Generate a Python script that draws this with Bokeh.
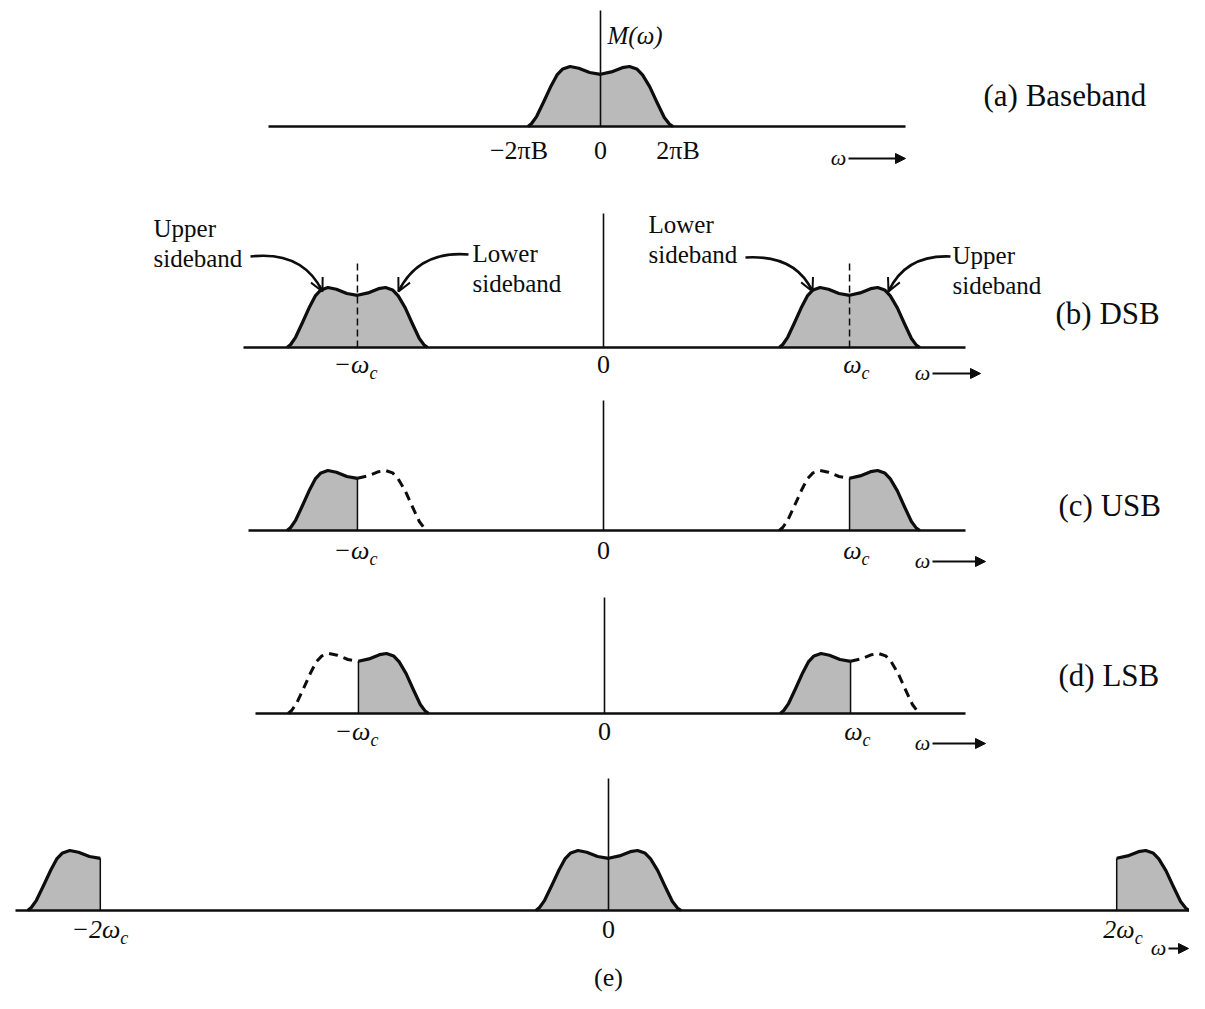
import numpy as np
from bokeh.plotting import figure
from bokeh.layouts import column
from bokeh.models import Range1d, Arrow, NormalHead, OpenHead
from bokeh.core.properties import value
from bokeh.embed import file_html
from bokeh.resources import INLINE

# ---------------- data ----------------
# baseband spectrum M(w): frequency in units of 2*pi*B, amplitude normalised to peak
PROFILE_X = [-1.00, -0.95, -0.88, -0.78, -0.68, -0.60, -0.52, -0.42, -0.30, -0.15, 0.00,
             0.15, 0.30, 0.40, 0.50, 0.58, 0.68, 0.78, 0.88, 0.95, 1.00]
PROFILE_M = [0.00, 0.05, 0.17, 0.42, 0.68, 0.86, 0.96, 1.00, 0.97, 0.90, 0.87,
             0.91, 0.98, 1.00, 0.96, 0.86, 0.66, 0.40, 0.15, 0.04, 0.00]
OMEGA_C = 3.5          # carrier frequency, in units of 2*pi*B

PANEL_TITLES = ["(a) Baseband", "(b) DSB", "(c) USB", "(d) LSB", "(e)"]
BASEBAND_TICKS = [-1.0, 0.0, 1.0]
BASEBAND_TICK_LABELS = ["−2πB", "0", "2πB"]
CARRIER_TICKS = [-OMEGA_C, 0.0, OMEGA_C]
CARRIER_TICK_MAIN = ["−ω", "0", "ω"]
CARRIER_TICK_SUB = ["c", "", "c"]
DEMOD_TICKS = [-2 * OMEGA_C, 0.0, 2 * OMEGA_C]
DEMOD_TICK_MAIN = ["−2ω", "0", "2ω"]
DEMOD_TICK_SUB = ["c", "", "c"]
SIDEBAND_NOTES = ["Upper\nsideband", "Lower\nsideband", "Lower\nsideband", "Upper\nsideband"]

# ---------------- layout (screen pixels) ----------------
PPA = 60.0
FONT = value("Liberation Serif")
FILL = "#bababa"
INK = "#0d0d0d"
W = 1189

panels = [
    dict(top=0, h=184, origin=600, ppu=72.5, base=126),
    dict(top=184, h=208, origin=603, ppu=70.3, base=347),
    dict(top=392, h=190, origin=603, ppu=70.3, base=530),
    dict(top=582, h=180, origin=604, ppu=70.3, base=713),
    dict(top=762, h=231, origin=608, ppu=72.6, base=910),
]

def px_x(pn, X):
    return (X - pn["origin"]) / pn["ppu"]

def px_y(pn, Y):
    return (pn["base"] - Y) / PPA

def make_fig(pn):
    f = figure(width=W, height=pn["h"],
               x_range=Range1d(px_x(pn, 0), px_x(pn, W)),
               y_range=Range1d(px_y(pn, pn["top"] + pn["h"]), px_y(pn, pn["top"])),
               output_backend="svg", toolbar_location=None, min_border=0,
               title=None)
    f.axis.visible = False
    f.grid.visible = False
    f.outline_line_color = None
    f.background_fill_color = "white"
    f.border_fill_color = "white"
    return f

px = np.array(PROFILE_X)
pm = np.array(PROFILE_M)

def full_band(f, c):
    f.patch(c + px, pm, fill_color=FILL, line_color=None)
    f.line(c + px, pm, line_color=INK, line_width=3.2, line_join="round")

def half_band(f, c, side, solid):
    sel = px >= 0 if side == "right" else px <= 0
    xs = c + px[sel]
    ys = pm[sel]
    if solid:
        if side == "right":
            pxs = np.concatenate([[c], xs]); pys = np.concatenate([[0], ys])
        else:
            pxs = np.concatenate([xs, [c]]); pys = np.concatenate([ys, [0]])
        f.patch(pxs, pys, fill_color=FILL, line_color=None)
        f.line(xs, ys, line_color=INK, line_width=3.2, line_join="round")
        f.segment(x0=[c], y0=[0], x1=[c], y1=[pm[px == 0][0]], line_color=INK, line_width=1.5)
    else:
        f.line(xs, ys, line_color=INK, line_width=3.0, line_dash="9 6")

def baseline(f, x0, x1):
    f.segment(x0=[x0], y0=[0], x1=[x1], y1=[0], line_color=INK, line_width=2.6)

def ordinate(f, top):
    f.segment(x0=[0], y0=[0], x1=[0], y1=[top], line_color=INK, line_width=1.6)

def txt(f, x, y, s, size=26, align="center", style="normal", xo=0, yo=0):
    f.text(x=[x], y=[y], text=[s], text_font=FONT, text_font_size=f"{size}px",
           text_align=align, text_baseline="middle", text_font_style=style,
           text_color=INK, x_offset=xo, y_offset=yo)

def sub_label(f, x, y, main, sub, dx):
    if not sub:
        txt(f, x, y, main, size=26)
        return
    txt(f, x, y, main, size=26, align="right", style="italic", xo=dx)
    txt(f, x, y, sub, size=18, align="left", style="italic", xo=dx, yo=8)

def omega_arrow(f, pn, X, Y, X2):
    txt(f, px_x(pn, X), px_y(pn, Y), "ω", size=22, style="italic")
    f.add_layout(Arrow(end=NormalHead(size=10, fill_color=INK, line_color=INK),
                       x_start=px_x(pn, X + 10), y_start=px_y(pn, Y + 1),
                       x_end=px_x(pn, X2), y_end=px_y(pn, Y + 1),
                       line_color=INK, line_width=2))

def curved_arrow(f, pn, p0, pc, p1):
    x0, y0 = px_x(pn, p0[0]), px_y(pn, p0[1])
    cx, cy = px_x(pn, pc[0]), px_y(pn, pc[1])
    x1, y1 = px_x(pn, p1[0]), px_y(pn, p1[1])
    f.quadratic(x0=[x0], y0=[y0], x1=[x1], y1=[y1], cx=[cx], cy=[cy],
                line_color=INK, line_width=2.6)
    sx = x1 - 0.15 * (x1 - cx); sy = y1 - 0.15 * (y1 - cy)
    f.add_layout(Arrow(end=OpenHead(size=13, line_color=INK, line_width=2),
                       x_start=sx, y_start=sy, x_end=x1, y_end=y1,
                       line_color=INK, line_width=2))

figs = []

# ---- (a) baseband ----
pn = panels[0]
f = make_fig(pn)
full_band(f, 0.0)
baseline(f, px_x(pn, 268), px_x(pn, 905))
ordinate(f, px_y(pn, 10))
for t, lab, xo in zip(BASEBAND_TICKS, BASEBAND_TICK_LABELS, [-9, 0, 5]):
    txt(f, t, px_y(pn, 150), lab, size=26, xo=xo)
txt(f, px_x(pn, 607), px_y(pn, 35), "M(ω)", size=25, align="left", style="italic")
omega_arrow(f, pn, 838, 157, 905)
txt(f, px_x(pn, 983), px_y(pn, 95), PANEL_TITLES[0], size=31, align="left")
figs.append(f)

# ---- (b) DSB ----
pn = panels[1]
f = make_fig(pn)
for c in (-OMEGA_C, OMEGA_C):
    full_band(f, c)
    f.segment(x0=[c], y0=[0], x1=[c], y1=[px_y(pn, 263)], line_color=INK,
              line_width=1.5, line_dash="7 4")
baseline(f, px_x(pn, 243), px_x(pn, 965))
ordinate(f, px_y(pn, 213))
for t, m, s in zip(CARRIER_TICKS, CARRIER_TICK_MAIN, CARRIER_TICK_SUB):
    sub_label(f, t, px_y(pn, 364), m, s, 12)
omega_arrow(f, pn, 922, 372, 980)
txt(f, px_x(pn, 1055), px_y(pn, 313), PANEL_TITLES[1], size=31, align="left")
note_pos = [(153, 228), (472, 253), (648, 224), (952, 255)]
for (X, Y), note in zip(note_pos, SIDEBAND_NOTES):
    l1, l2 = note.split("\n")
    txt(f, px_x(pn, X), px_y(pn, Y), l1, size=25, align="left")
    txt(f, px_x(pn, X), px_y(pn, Y + 30), l2, size=25, align="left")
curved_arrow(f, pn, (250, 256), (302, 250), (322, 291))
curved_arrow(f, pn, (468, 254), (418, 250), (398, 291))
curved_arrow(f, pn, (745, 257), (795, 254), (812, 291))
curved_arrow(f, pn, (950, 256), (905, 254), (888, 291))
figs.append(f)

# ---- (c) USB ----
pn = panels[2]
f = make_fig(pn)
half_band(f, -OMEGA_C, "left", True)
half_band(f, -OMEGA_C, "right", False)
half_band(f, OMEGA_C, "left", False)
half_band(f, OMEGA_C, "right", True)
baseline(f, px_x(pn, 248), px_x(pn, 965))
ordinate(f, px_y(pn, 400))
for t, m, s in zip(CARRIER_TICKS, CARRIER_TICK_MAIN, CARRIER_TICK_SUB):
    sub_label(f, t, px_y(pn, 550), m, s, 12)
omega_arrow(f, pn, 922, 560, 985)
txt(f, px_x(pn, 1058), px_y(pn, 505), PANEL_TITLES[2], size=31, align="left")
figs.append(f)

# ---- (d) LSB ----
pn = panels[3]
f = make_fig(pn)
half_band(f, -OMEGA_C, "left", False)
half_band(f, -OMEGA_C, "right", True)
half_band(f, OMEGA_C, "left", True)
half_band(f, OMEGA_C, "right", False)
baseline(f, px_x(pn, 255), px_x(pn, 965))
ordinate(f, px_y(pn, 597))
for t, m, s in zip(CARRIER_TICKS, CARRIER_TICK_MAIN, CARRIER_TICK_SUB):
    sub_label(f, t, px_y(pn, 731), m, s, 12)
omega_arrow(f, pn, 922, 742, 985)
txt(f, px_x(pn, 1058), px_y(pn, 675), PANEL_TITLES[3], size=31, align="left")
figs.append(f)

# ---- (e) demodulated ----
pn = panels[4]
f = make_fig(pn)
full_band(f, 0.0)
half_band(f, -2 * OMEGA_C, "left", True)
half_band(f, 2 * OMEGA_C, "right", True)
baseline(f, px_x(pn, 15), px_x(pn, W))
ordinate(f, px_y(pn, 778))
for t, m, s, dx in zip(DEMOD_TICKS, DEMOD_TICK_MAIN, DEMOD_TICK_SUB, [20, 0, 18]):
    sub_label(f, t, px_y(pn, 929), m, s, dx)
omega_arrow(f, pn, 1158, 947, 1188)
txt(f, 0.0, px_y(pn, 977), PANEL_TITLES[4], size=26)
figs.append(f)

layout = column(*figs, spacing=0)
open("out.html", "w").write(file_html(layout, INLINE))
